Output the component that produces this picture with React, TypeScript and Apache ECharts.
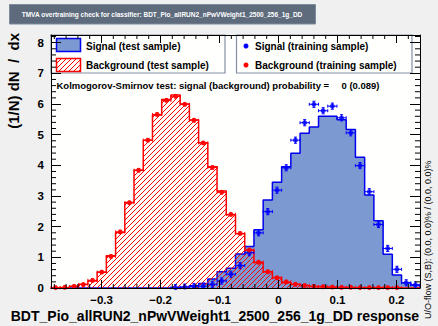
import React, { useEffect, useRef } from "react";
import * as echarts from "echarts";

// ---- axis ranges (from the picture) ----
const X_MIN = -0.3856;
const X_MAX = 0.2398;
const Y_MAX = 8.25;
const N_BINS = 40;

// ---- histogram contents, 40 bins ----
const SIG_TEST = [
  0, 0, 0, 0, 0, 0, 0, 0, 0, 0, 0, 0, 0, 0.02, 0.04, 0.07, 0.15, 0.29, 0.53, 0.64,
  1.11, 1.35, 1.9, 2.87, 3.45, 3.95, 4.39, 5.05, 5.25, 5.6, 5.6, 5.49, 5.17, 4.26, 3.03, 2.19,
  1.1, 0.42, 0.17, 0.1,
];
const BKG_TEST = [
  0.01, 0.02, 0.06, 0.12, 0.23, 0.51, 1.05, 1.81, 2.79, 3.84, 4.82, 5.64, 6.15, 6.29, 6.0,
  5.48, 4.74, 3.95, 3.16, 2.39, 1.77, 1.23, 0.83, 0.53, 0.34, 0.17, 0.12, 0.08, 0.05, 0.03,
  0.02, 0.02, 0.01, 0.01, 0.005, 0.005, 0, 0, 0, 0,
];
const SIG_TRAIN = [
  0, 0, 0, 0, 0, 0, 0, 0, 0, 0, 0, 0, 0, 0.01, 0.03, 0.05, 0.06, 0.12, 0.23, 0.45,
  0.73, 1.15, 1.8, 2.49, 3.19, 3.92, 4.82, 5.39, 5.99, 5.78, 5.93, 5.55, 5.06, 3.99, 3.14, 2.07,
  1.29, 0.61, 0.17, 0.1,
];
const BKG_TRAIN = [
  0.01, 0.02, 0.05, 0.11, 0.25, 0.52, 1.03, 1.83, 2.78, 3.84, 4.82, 5.66, 6.12, 6.25, 5.99,
  5.47, 4.73, 3.93, 3.12, 2.4, 1.78, 1.24, 0.84, 0.53, 0.33, 0.2, 0.12, 0.08, 0.05, 0.04,
  0.03, 0.02, 0.02, 0.01, 0.01, 0.01, 0.01, 0.01, 0, 0,
];
const SIG_ERR = 0.1;
const BKG_ERR = 0.05;

// ---- ticks ----
const X_MINOR = [
  -0.38, -0.36, -0.34, -0.32, -0.28, -0.26, -0.24, -0.22, -0.18, -0.16, -0.14, -0.12,
  -0.08, -0.06, -0.04, -0.02, 0.02, 0.04, 0.06, 0.08, 0.12, 0.14, 0.16, 0.18, 0.22,
];
const Y_MINOR = [
  0.2, 0.4, 0.6, 0.8, 1.2, 1.4, 1.6, 1.8, 2.2, 2.4, 2.6, 2.8, 3.2, 3.4, 3.6, 3.8, 4.2, 4.4,
  4.6, 4.8, 5.2, 5.4, 5.6, 5.8, 6.2, 6.4, 6.6, 6.8, 7.2, 7.4, 7.6, 7.8, 8.2,
];

// ---- texts ----
const TITLE = "TMVA overtraining check for classifier: BDT_Pio_allRUN2_nPwVWeight1_2500_256_1g_DD";
const X_TITLE = "BDT_Pio_allRUN2_nPwVWeight1_2500_256_1g_DD response";
const Y_TITLE = "(1/N) dN\u00a0\u00a0/\u00a0\u00a0dx";
const KS_TEXT = "Kolmogorov-Smirnov test: signal (background) probability =";
const KS_VALUE = "0 (0.089)";
const UO_TEXT = "U/O-flow (S,B): (0.0, 0.0)% / (0.0, 0.0)%";
const LEG = [
  "Signal (test sample)",
  "Background (test sample)",
  "Signal (training sample)",
  "Background (training sample)",
];

// ---- colours ----
const C_CANVAS = "#f0f0f0";
const C_FRAME = "#fffffd";
const C_SIG_LINE = "#0000ee";
const C_SIG_FILL = "#7d99d1";
const C_BKG = "#ff0000";
const C_SIG_PT = "#0000ff";
const C_TITLE_BOX = "#5d6b7d";
const C_TITLE_BORDER = "#7d8b9d";
const C_LEG_BORDER = "#8391a5";
const FONT = '"Liberation Sans", Arial, Helvetica, sans-serif';

const BIN_W = (X_MAX - X_MIN) / N_BINS;
const edge = (i: number) => X_MIN + i * BIN_W;
const center = (i: number) => X_MIN + (i + 0.5) * BIN_W;

function stepData(vals: number[]) {
  const pts: number[][] = [[edge(0), 0]];
  vals.forEach((v, i) => pts.push([edge(i), v]));
  pts.push([edge(N_BINS), vals[N_BINS - 1]]);
  pts.push([edge(N_BINS), 0]);
  return pts;
}
function pointData(vals: number[]) {
  return vals.map((v, i) => [center(i), v]).filter((d) => d[1] > 0);
}

const HATCH_SVG =
  '<svg xmlns="http://www.w3.org/2000/svg" width="5" height="5">' +
  '<path d="M0,5 L5,0 M-1,1 L1,-1 M4,6 L6,4" stroke="#ff0000" stroke-width="1" fill="none"/></svg>';
const HATCH = {
  image: "data:image/svg+xml;utf8," + encodeURIComponent(HATCH_SVG),
  repeat: "repeat",
  imageWidth: 5,
  imageHeight: 5,
};

function errRender(err: number, color: string) {
  return (_p: any, api: any) => {
    const cx = api.value(0);
    const v = api.value(1);
    const l = api.coord([cx - BIN_W / 2, v]);
    const r = api.coord([cx + BIN_W / 2, v]);
    const lo = api.coord([cx, Math.max(0, v - err)]);
    const hi = api.coord([cx, v + err]);
    const st = { stroke: color, lineWidth: 1 };
    const c = 1.5;
    return {
      type: "group",
      children: [
        { type: "line", shape: { x1: l[0], y1: l[1], x2: r[0], y2: r[1] }, style: st },
        { type: "line", shape: { x1: lo[0], y1: lo[1], x2: hi[0], y2: hi[1] }, style: st },
        { type: "line", shape: { x1: l[0], y1: l[1] - c, x2: l[0], y2: l[1] + c }, style: st },
        { type: "line", shape: { x1: r[0], y1: r[1] - c, x2: r[0], y2: r[1] + c }, style: st },
        { type: "line", shape: { x1: hi[0] - c, y1: hi[1], x2: hi[0] + c, y2: hi[1] }, style: st },
        { type: "line", shape: { x1: lo[0] - c, y1: lo[1], x2: lo[0] + c, y2: lo[1] }, style: st },
      ],
    };
  };
}

function txt(text: string, x: number, y: number, size: number, opts: any = {}) {
  const align = opts.align || "left";
  return {
    type: "text",
    x,
    y,
    rotation: opts.rotation || 0,
    z: 5,
    style: {
      text,
      fill: opts.fill || "#000",
      fontSize: size,
      fontWeight: opts.weight || "bold",
      fontFamily: FONT,
      align,
      textAlign: align,
      verticalAlign: "middle",
      textVerticalAlign: "middle",
    },
  };
}

export default function App() {
  const ref = useRef<HTMLDivElement>(null);
  useEffect(() => {
    document.body.style.margin = "0";
    if (!ref.current) return;
    const chart = echarts.init(ref.current, null, { renderer: "svg" });
    const axisLine = { show: true, onZero: false, lineStyle: { color: "#000", width: 1 } };
    const labelStyle = { color: "#000", fontWeight: "bold", fontSize: 11.5, fontFamily: FONT };
    const option: any = {
      animation: false,
      backgroundColor: C_CANVAS,
      grid: {
        left: 51,
        top: 35,
        right: 18,
        bottom: 38,
        show: true,
        backgroundColor: C_FRAME,
        borderWidth: 0,
      },
      xAxis: [
        {
          type: "value",
          position: "bottom",
          min: X_MIN,
          max: X_MAX,
          z: 10,
          axisLine,
          splitLine: { show: false },
          axisTick: { inside: true, length: 8, lineStyle: { color: "#000" } },
          axisLabel: {
            ...labelStyle,
            margin: 6,
            formatter: (v: number) => {
              const r = Math.round(v * 10);
              if (Math.abs(v * 10 - r) > 1e-6) return "";
              return String(r / 10).replace("-", "\u2212");
            },
          },
        },
        {
          type: "value",
          position: "top",
          min: X_MIN,
          max: X_MAX,
          z: 10,
          axisLine,
          splitLine: { show: false },
          axisTick: { inside: true, length: 8, lineStyle: { color: "#000" } },
          axisLabel: { show: false },
        },
      ],
      yAxis: [
        {
          type: "value",
          position: "left",
          min: 0,
          max: Y_MAX,
          interval: 1,
          z: 10,
          axisLine,
          splitLine: { show: false },
          axisTick: { inside: true, length: 10, lineStyle: { color: "#000" } },
          axisLabel: {
            ...labelStyle,
            margin: 7,
            formatter: (v: number) => (Math.abs(v - Math.round(v)) > 1e-6 ? "" : String(Math.round(v))),
          },
        },
        {
          type: "value",
          position: "right",
          min: 0,
          max: Y_MAX,
          interval: 1,
          z: 10,
          axisLine,
          splitLine: { show: false },
          axisTick: { inside: true, length: 10, lineStyle: { color: "#000" } },
          axisLabel: { show: false },
        },
      ],
      series: [
        {
          type: "line",
          data: stepData(SIG_TEST),
          step: "end",
          symbol: "none",
          z: 2,
          lineStyle: { color: C_SIG_LINE, width: 1.5 },
          areaStyle: { color: C_SIG_FILL, opacity: 1 },
        },
        {
          type: "line",
          data: stepData(BKG_TEST),
          step: "end",
          symbol: "none",
          z: 3,
          lineStyle: { color: C_BKG, width: 1.5 },
          areaStyle: { color: HATCH, opacity: 1 },
        },
        {
          type: "custom",
          data: pointData(SIG_TRAIN),
          z: 4,
          renderItem: errRender(SIG_ERR, C_SIG_PT),
        },
        {
          type: "custom",
          data: pointData(BKG_TRAIN),
          z: 4,
          renderItem: errRender(BKG_ERR, C_BKG),
        },
        {
          type: "scatter",
          data: pointData(SIG_TRAIN),
          symbol: "circle",
          symbolSize: 5,
          z: 5,
          itemStyle: { color: C_SIG_PT },
        },
        {
          type: "scatter",
          data: pointData(BKG_TRAIN),
          symbol: "circle",
          symbolSize: 5,
          z: 5,
          itemStyle: { color: C_BKG },
        },
        {
          // minor ticks on x (bottom & top)
          type: "custom",
          data: X_MINOR.map((v) => [v, 0]),
          z: 10,
          renderItem: (_p: any, api: any) => {
            const v = api.value(0);
            const b = api.coord([v, 0]);
            const t = api.coord([v, Y_MAX]);
            const st = { stroke: "#000", lineWidth: 1 };
            return {
              type: "group",
              children: [
                { type: "line", shape: { x1: b[0], y1: b[1], x2: b[0], y2: b[1] - 4 }, style: st },
                { type: "line", shape: { x1: t[0], y1: t[1], x2: t[0], y2: t[1] + 4 }, style: st },
              ],
            };
          },
        },
        {
          // minor ticks on y (left & right)
          type: "custom",
          data: Y_MINOR.map((v) => [X_MIN, v]),
          z: 10,
          renderItem: (_p: any, api: any) => {
            const v = api.value(1);
            const l = api.coord([X_MIN, v]);
            const r = api.coord([X_MAX, v]);
            const st = { stroke: "#000", lineWidth: 1 };
            return {
              type: "group",
              children: [
                { type: "line", shape: { x1: l[0], y1: l[1], x2: l[0] + 5, y2: l[1] }, style: st },
                { type: "line", shape: { x1: r[0], y1: r[1], x2: r[0] - 5, y2: r[1] }, style: st },
              ],
            };
          },
        },
      ],
      graphic: [
        {
          type: "rect",
          z: 5,
          shape: { x: 9.5, y: 4.5, width: 306, height: 19.5 },
          style: { fill: C_TITLE_BOX, stroke: C_TITLE_BORDER, lineWidth: 1 },
        },
        txt(TITLE, 162, 14.5, 6.5, { align: "center", fill: "#ffffff" }),
        {
          type: "rect",
          z: 5,
          shape: { x: 51, y: 35, width: 174, height: 38 },
          style: { fill: C_FRAME, stroke: C_LEG_BORDER, lineWidth: 1.2 },
        },
        {
          type: "rect",
          z: 5,
          shape: { x: 236.5, y: 35, width: 175.5, height: 38 },
          style: { fill: C_FRAME, stroke: C_LEG_BORDER, lineWidth: 1.2 },
        },
        {
          type: "rect",
          z: 6,
          shape: { x: 56.5, y: 38.5, width: 24, height: 13 },
          style: { fill: C_SIG_FILL, stroke: C_SIG_LINE, lineWidth: 1.5 },
        },
        {
          type: "rect",
          z: 6,
          shape: { x: 56.5, y: 58.5, width: 24, height: 13 },
          style: { fill: HATCH, stroke: C_BKG, lineWidth: 1.5 },
        },
        txt(LEG[0], 86, 46, 10),
        txt(LEG[1], 86, 65, 10),
        { type: "circle", z: 6, shape: { cx: 246, cy: 46, r: 2.5 }, style: { fill: C_SIG_PT } },
        { type: "circle", z: 6, shape: { cx: 246, cy: 65, r: 2.5 }, style: { fill: C_BKG } },
        txt(LEG[2], 255, 46, 10),
        txt(LEG[3], 255, 65, 10),
        txt(KS_TEXT, 56.5, 85, 9.5),
        txt(KS_VALUE, 341.5, 85, 9.5),
        txt(X_TITLE, 419, 316, 14, { align: "right" }),
        txt(Y_TITLE, 13, 33, 15, { align: "right", rotation: Math.PI / 2 }),
        txt(UO_TEXT, 428, 319, 9, { align: "left", rotation: Math.PI / 2, weight: "normal" }),
      ],
    };
    chart.setOption(option);
    return () => chart.dispose();
  }, []);
  return (
    <div
      ref={ref}
      style={{ width: 438, height: 326, position: "absolute", left: 0, top: 0 }}
    />
  );
}
